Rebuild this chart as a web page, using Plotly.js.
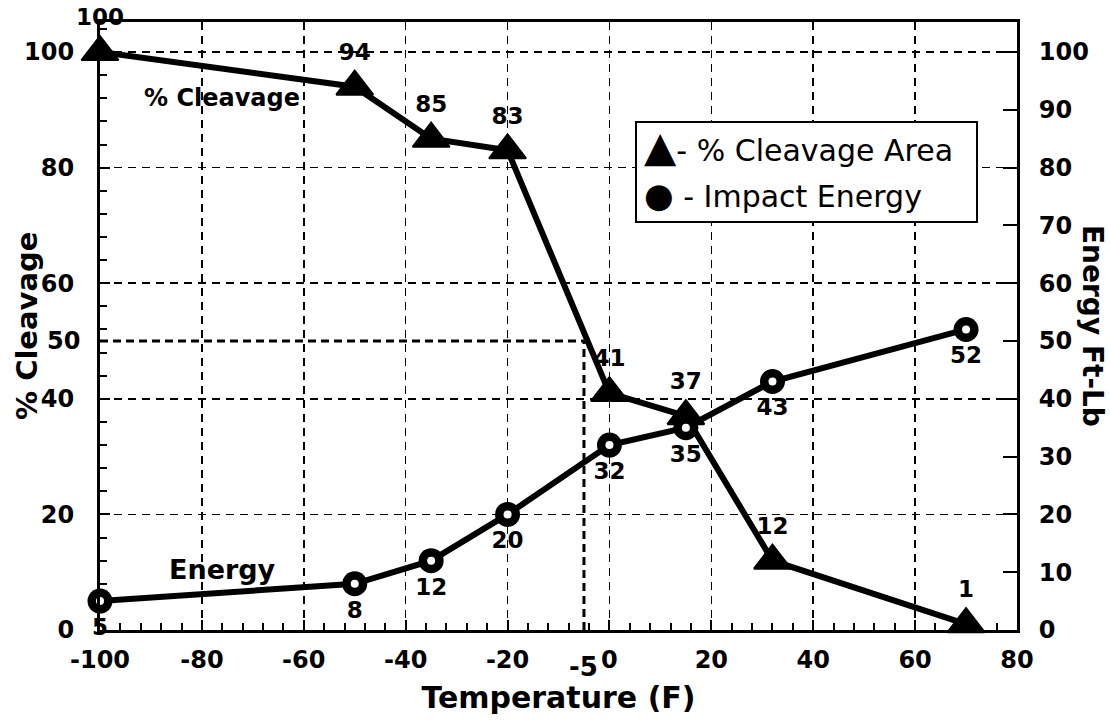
<!DOCTYPE html>
<html>
<head>
<meta charset="utf-8">
<script src="https://cdn.plot.ly/plotly-3.0.1.min.js"></script>
<style>html,body{margin:0;padding:0;background:#fff;}#chart{width:1110px;height:727px;}</style>
</head>
<body>
<div id="chart"></div>
<script>
// ---- data ----
const temperature = [-100, -50, -35, -20, 0, 15, 32, 70];
const cleavagePct = [100, 94, 85, 83, 41, 37, 12, 1];
const impactEnergy = [5, 8, 12, 20, 32, 35, 43, 52];
const xTicks = [-100, -80, -60, -40, -20, 0, 20, 40, 60, 80];
const leftTicks = [0, 20, 40, 60, 80, 100];
const rightTicks = [0, 10, 20, 30, 40, 50, 60, 70, 80, 90, 100];
const refTemp = -5;        // temperature where cleavage = 50 %
const refCleavage = 50;

const FONT = "DejaVu Sans";
const boldFont = (s) => ({family: FONT, size: s, color: "#000", weight: "bold"});

const traces = [
  {
    x: temperature, y: cleavagePct, yaxis: "y",
    mode: "lines+markers+text", name: "% Cleavage Area",
    line: {color: "#000", width: 6},
    marker: {symbol: "triangle-up", size: 32, color: "#000", line: {color: "#000", width: 2}},
    text: cleavagePct.map(String), textposition: "top center",
    textfont: boldFont(23), cliponaxis: false, showlegend: false, hoverinfo: "x+y"
  },
  {
    x: temperature, y: impactEnergy, yaxis: "y2",
    mode: "lines+markers+text", name: "Impact Energy",
    line: {color: "#000", width: 6},
    marker: {symbol: "circle", size: 25, color: "#000", line: {color: "#000", width: 0}},
    text: impactEnergy.map(String), textposition: "bottom center",
    textfont: boldFont(23), cliponaxis: false, showlegend: false, hoverinfo: "x+y"
  },
  {
    // white highlight spot inside each energy marker
    x: temperature, y: impactEnergy, yaxis: "y2",
    mode: "markers", name: "highlight",
    marker: {symbol: "circle", size: 8, color: "#fff", line: {width: 0}},
    cliponaxis: false, showlegend: false, hoverinfo: "skip"
  }
];

const yRange = [0, 105.2];
const layout = {
  width: 1110, height: 727,
  margin: {l: 100, r: 93, t: 22, b: 97},
  paper_bgcolor: "#fff", plot_bgcolor: "#fff",
  font: {family: FONT, color: "#000"},
  showlegend: false,
  xaxis: {
    range: [-100, 80], tickvals: xTicks, ticktext: xTicks.map(String),
    showline: true, linecolor: "#000", linewidth: 3, mirror: true,
    ticks: "inside", ticklen: 10, tickwidth: 2, tickcolor: "#000",
    minor: {dtick: 4, tick0: 0, ticks: "inside", ticklen: 7, tickwidth: 2, tickcolor: "#000", showgrid: false},
    showgrid: true, gridcolor: "#000", gridwidth: 1.5, griddash: "8px,6px",
    zeroline: false, tickfont: boldFont(24), ticklabelstandoff: 6,
    title: {text: "Temperature (F)", font: boldFont(30), standoff: 15}
  },
  yaxis: {
    range: yRange, tickvals: leftTicks, ticktext: leftTicks.map(String),
    showline: true, linecolor: "#000", linewidth: 3,
    ticks: "inside", ticklen: 10, tickwidth: 2, tickcolor: "#000",
    minor: {dtick: 4, tick0: 0, ticks: "inside", ticklen: 7, tickwidth: 2, tickcolor: "#000", showgrid: false},
    showgrid: true, gridcolor: "#000", gridwidth: 1.5, griddash: "8px,6px",
    zeroline: false, tickfont: boldFont(24), ticklabelstandoff: 18
  },
  yaxis2: {
    range: yRange, tickvals: rightTicks, ticktext: rightTicks.map(String),
    overlaying: "y", side: "right",
    showline: true, linecolor: "#000", linewidth: 3,
    ticks: "inside", ticklen: 14, tickwidth: 2, tickcolor: "#000",
    showgrid: false, zeroline: false, tickfont: boldFont(24), ticklabelstandoff: 14
  },
  shapes: [
    {type: "line", xref: "x", yref: "y", x0: temperature[0], x1: refTemp, y0: refCleavage, y1: refCleavage,
     line: {color: "#000", width: 3, dash: "8px,5px"}},
    {type: "line", xref: "x", yref: "y", x0: refTemp, x1: refTemp, y0: 0, y1: refCleavage,
     line: {color: "#000", width: 3, dash: "8px,5px"}},
    {type: "rect", xref: "paper", yref: "paper", x0: 0.5845, x1: 0.9564, y0: 0.671, y1: 0.8355,
     fillcolor: "#fff", line: {color: "#000", width: 2}, layer: "above"}
  ],
  annotations: [
    {xref: "paper", yref: "y", x: 0, y: refCleavage, text: String(refCleavage), showarrow: false,
     xanchor: "right", xshift: -18, font: boldFont(24)},
    {xref: "x", yref: "paper", x: refTemp, y: 0, text: String(refTemp), showarrow: false,
     yanchor: "top", yshift: -20, font: boldFont(26)},
    {xref: "x", yref: "y", x: -76, y: 92, text: "% Cleavage", showarrow: false, font: boldFont(24)},
    {xref: "x", yref: "y2", x: -76, y: 10.5, text: "Energy", showarrow: false, font: boldFont(27)},
    {xref: "paper", yref: "paper", x: -0.0796, y: 0.5, xanchor: "center", yanchor: "middle",
     text: "% Cleavage", showarrow: false, textangle: -90, font: boldFont(29)},
    {xref: "paper", yref: "paper", x: 1.0829, y: 0.5, xanchor: "center", yanchor: "middle",
     text: "Energy Ft-Lb", showarrow: false, textangle: 90, font: boldFont(28)},
    {xref: "paper", yref: "paper", x: 0.591, y: 0.795, xanchor: "left", yanchor: "middle", showarrow: false,
     text: '<span style="font-size:42px">▲</span>- % Cleavage Area', font: {family: FONT, size: 30, color: "#000"}},
    {xref: "paper", yref: "paper", x: 0.591, y: 0.715, xanchor: "left", yanchor: "middle", showarrow: false,
     text: '<span style="font-size:34px">●</span> - Impact Energy', font: {family: FONT, size: 30, color: "#000"}}
  ]
};

Plotly.newPlot("chart", traces, layout, {displayModeBar: false, staticPlot: true});
</script>
</body>
</html>
